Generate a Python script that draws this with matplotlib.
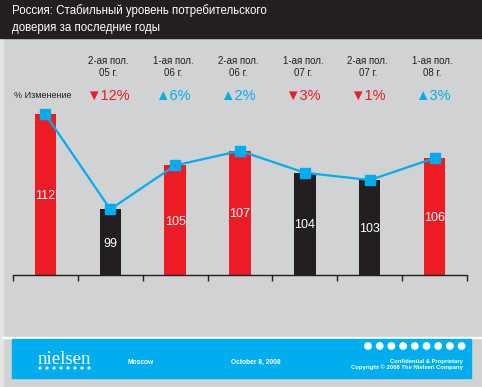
import matplotlib
matplotlib.use("Agg")
import matplotlib.pyplot as plt
from matplotlib.patches import Rectangle, Circle
from matplotlib.transforms import blended_transform_factory

# data
periods = ["", "2-ая пол.\n05 г.", "1-ая пол.\n06 г.", "2-ая пол.\n06 г.",
           "1-ая пол.\n07 г.", "2-ая пол.\n07 г.", "1-ая пол.\n08 г."]
values = [112, 99, 105, 107, 104, 103, 106]
bar_kind = ["r", "k", "r", "r", "k", "k", "r"]
changes = [None, "▼12%", "▲6%", "▲2%", "▼3%", "▼1%", "▲3%"]

RED = "#ed1c24"
BLACK = "#231f20"
CYAN = "#00aeef"
GRAY = "#d1d2d4"

W, H = 482, 387
plt.rcParams["font.family"] = ["Liberation Sans", "DejaVu Sans"]

fig = plt.figure(figsize=(W / 100, H / 100), dpi=100)
fig.patch.set_facecolor(GRAY)


def px(x, y):
    return x / W, 1 - y / H


# background pieces
fig.patches.append(Rectangle((0, 0), 3 / W, 1, transform=fig.transFigure,
                             color="#e4e4e4", zorder=0))
fig.patches.append(Rectangle(px(0, 38), 1, 38 / H, transform=fig.transFigure,
                             color=BLACK, zorder=1))
fig.patches.append(Rectangle(px(3, 338), 1, 1 / H, transform=fig.transFigure,
                             color="white", zorder=1))
fig.patches.append(Rectangle(px(12, 377.5), 459 / W, 38.5 / H,
                             transform=fig.transFigure, color=CYAN, zorder=1))

# title
fig.text(*px(12, 11), "Россия: Стабильный уровень потребительского",
         color="white", fontsize=8.3, va="center")
fig.text(*px(12, 28), "доверия за последние годы",
         color="white", fontsize=8.3, va="center")

# chart
ax = fig.add_axes([13 / W, (H - 275) / H, 454 / W, 168 / H])
ax.set_facecolor("none")
x = list(range(len(values)))
colors = [RED if k == "r" else BLACK for k in bar_kind]
ax.bar(x, [v - 90 for v in values], bottom=90, width=0.33, color=colors, zorder=2)
ax.plot(x, values, color=CYAN, lw=1.6, marker="s", markersize=6.5, zorder=3)
for xi, v in zip(x, values):
    ax.text(xi, (90 + v) / 2 - 0.2, str(v), color="white", ha="center",
            va="center", fontsize=9, zorder=4)

ax.set_xlim(-0.5, 6.5)
ax.set_ylim(90, 113)
for s in ["top", "right", "left"]:
    ax.spines[s].set_visible(False)
ax.spines["bottom"].set_color(BLACK)
ax.spines["bottom"].set_linewidth(1)
ax.set_xticks([i - 0.5 for i in range(8)])
ax.set_xticklabels([])
ax.tick_params(axis="x", direction="out", length=4, width=1, color=BLACK)
ax.set_yticks([])

# headers above the chart
tr = blended_transform_factory(ax.transData, fig.transFigure)
for xi, lab, ch in zip(x, periods, changes):
    if lab:
        l1, l2 = lab.split("\n")
        ax.text(xi - 0.03, 1 - 61 / H, l1, transform=tr, ha="center",
                va="center", fontsize=7, color=BLACK)
        ax.text(xi - 0.03, 1 - 73.5 / H, l2, transform=tr, ha="center",
                va="center", fontsize=7, color=BLACK)
    if ch:
        c = RED if ch.startswith("▼") else CYAN
        ax.text(xi - 0.03, 1 - 96 / H, ch, transform=tr,
                ha="center", va="center", fontsize=10.5, color=c)
fig.text(*px(14, 96), "% Изменение", fontsize=6.5, color=BLACK, va="center")

# footer
fig.text(*px(38, 359), "nielsen", color="white", fontsize=13.5,
         family="Liberation Serif", va="center")
for i in range(8):
    fig.add_artist(Circle((40 + i * 7, H - 368), 0.9, color="white",
                          transform=None, zorder=2))
fig.text(*px(128, 363), "Moscow", color="white", fontsize=4.8, weight="bold",
         va="center")
fig.text(*px(256, 362), "October 8, 2008", color="white", fontsize=4.8,
         weight="bold", va="center", ha="center")
for i in range(9):
    fig.add_artist(Circle((368 + i * 11.7, H - 346), 3.2, color="white",
                          transform=None, zorder=2))
fig.text(*px(463, 361), "Confidential & Proprietary", color="white",
         fontsize=4.2, weight="bold", va="center", ha="right")
fig.text(*px(463, 367), "Copyright © 2008 The Nielsen Company", color="white",
         fontsize=4.2, weight="bold", va="center", ha="right")

fig.savefig("out.png", dpi=100, facecolor=fig.get_facecolor())
